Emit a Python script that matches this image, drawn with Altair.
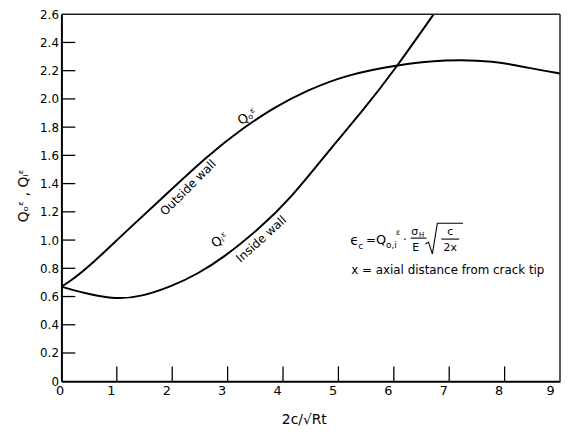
import altair as alt
import pandas as pd

# Curves
outside_x = [0.0, 0.2, 0.55, 1.16, 1.8, 2.64, 3.3, 3.84, 4.43, 5.14, 6.04, 6.93, 7.82, 8.41, 9.0]
outside_y = [0.67, 0.72, 0.83, 1.06, 1.29, 1.60, 1.80, 1.94, 2.06, 2.17, 2.24, 2.28, 2.27, 2.22, 2.18]
inside_x = [0.0, 0.45, 0.98, 1.45, 1.98, 2.46, 2.94, 3.54, 4.13, 4.84, 5.45, 6.04, 6.72]
inside_y = [0.67, 0.62, 0.58, 0.60, 0.67, 0.76, 0.88, 1.07, 1.29, 1.64, 1.92, 2.22, 2.60]

x_labels = [0, 1, 2, 3, 4, 5, 6, 7, 8, 9]
x_ticks = [1, 2, 3, 4, 5, 6, 7, 8]
y_labels = [0, 0.2, 0.4, 0.6, 0.8, 1.0, 1.2, 1.4, 1.6, 1.8, 2.0, 2.2, 2.4, 2.6]
y_ticks = [0.2, 0.4, 0.6, 0.8, 1.0, 1.2, 1.4, 1.6, 1.8, 2.0, 2.2, 2.4]

FONT = "DejaVu Sans"
W, H = 504, 371

df = pd.DataFrame({
    "x": outside_x + inside_x,
    "y": outside_y + inside_y,
    "wall": ["Outside wall"] * len(outside_x) + ["Inside wall"] * len(inside_x),
})

xs = alt.Scale(domain=[0, 9], nice=False, zero=False)
ys = alt.Scale(domain=[0, 2.6], nice=False, zero=False)

x_axis = alt.Axis(values=x_labels, ticks=False, grid=False, format="d",
                  labelFontSize=13, labelFont=FONT, labelColor="black", labelPadding=3,
                  labelOffset=-6, labelOverlap=False, domainColor="black", domainWidth=2,
                  title="2c/√Rt", titleFontSize=14, titleFont=FONT, titleFontWeight="normal",
                  titleX=245, titleY=39, titleBaseline="middle", titleColor="black")
y_axis = alt.Axis(values=y_labels, ticks=False, grid=False,
                  labelExpr="datum.value == 0 ? '0' : format(datum.value, '.1f')",
                  labelFontSize=12, labelFont=FONT, labelColor="black", labelPadding=3,
                  labelOverlap=False, labelBound=False, labelFlush=False,
                  domainColor="black", domainWidth=2,
                  title="Qₒᵋ , Qᵢᵋ", titleFontSize=14, titleFont=FONT, titleFontWeight="normal",
                  titleAngle=270, titleX=-38, titleY=183, titleAlign="center",
                  titleBaseline="middle", titleColor="black")


def X(field):
    return alt.X(field, scale=xs, axis=x_axis)


def Y(field):
    return alt.Y(field, scale=ys, axis=y_axis)


lines = alt.Chart(df).mark_line(color="black", strokeWidth=2, interpolate="basis", clip=True).encode(
    x=X("x:Q"), y=Y("y:Q"), detail="wall:N")

ytick_layer = alt.Chart(pd.DataFrame({"y": y_ticks})).mark_rule(color="black", strokeWidth=1.3).encode(
    y=Y("y:Q"), x=alt.value(0), x2=alt.value(14))
xtick_layer = alt.Chart(pd.DataFrame({"x": x_ticks})).mark_rule(color="black", strokeWidth=1.3).encode(
    x=X("x:Q"), y=alt.value(H), y2=alt.value(H - 15))

# frame (top and right edges of the plot box)
frame_top = alt.Chart(pd.DataFrame({"y": [2.6]})).mark_rule(color="#222", strokeWidth=1.5).encode(
    y=Y("y:Q"), x=alt.value(0), x2=alt.value(W))
frame_right = alt.Chart(pd.DataFrame({"x": [9]})).mark_rule(color="#222", strokeWidth=1.5).encode(
    x=X("x:Q"), y=alt.value(0), y2=alt.value(H))


def txt(t, x, y, size=12, angle=0, align="center", baseline="middle"):
    return alt.Chart(pd.DataFrame({"x": [x], "y": [y], "t": [t]})).mark_text(
        font=FONT, fontSize=size, angle=angle, align=align, baseline=baseline, color="black"
    ).encode(x=X("x:Q"), y=Y("y:Q"), text="t:N")


def seg(xv, yv):
    return alt.Chart(pd.DataFrame({"x": xv, "y": yv, "o": list(range(len(xv)))})).mark_line(
        color="black", strokeWidth=1.1).encode(x=X("x:Q"), y=Y("y:Q"), order="o:Q")


labels = [
    txt("Outside wall", 2.286, 1.371, 12, 315),
    txt("Qₒᵋ", 3.357, 1.874, 13, 326),
    txt("Qᵢᵋ", 2.857, 1.0, 13, 325),
    txt("Inside wall", 3.607, 1.007, 12, 318),
    # formula
    txt("ϵ", 5.214, 0.993, 14, align="left"),
    txt("c", 5.36, 0.955, 9, align="left"),
    txt("=", 5.5, 1.0, 12, align="left"),
    txt("Q", 5.68, 1.0, 13, align="left"),
    txt("o,i", 5.86, 0.962, 9, align="left"),
    txt("ε", 6.04, 1.049, 8, align="left"),
    txt("·", 6.2, 1.0, 12),
    txt("σ", 6.375, 1.056, 11),
    txt("H", 6.5, 1.035, 7),
    txt("E", 6.393, 0.944, 11),
    txt("c", 7.018, 1.056, 11),
    txt("2x", 7.018, 0.944, 11),
    seg([6.304, 6.589], [1.014, 1.014]),
    seg([6.571, 6.625, 6.696, 6.786, 7.25], [0.972, 0.986, 0.902, 1.119, 1.119]),
    seg([6.857, 7.179], [1.007, 1.007]),
    txt("x = axial distance from crack tip", 5.232, 0.79, 12, align="left"),
]

chart = alt.layer(lines, ytick_layer, xtick_layer, frame_top, frame_right, *labels).properties(
    width=W, height=H,
    autosize=alt.AutoSizeParams(type="none"),
    padding={"left": 54, "top": 4, "right": 1, "bottom": 45},
).configure(background="white").configure_view(strokeWidth=0).configure_axis(labelOverlap=False)

chart.save("out.html", embed_options={"renderer": "svg", "actions": False})
